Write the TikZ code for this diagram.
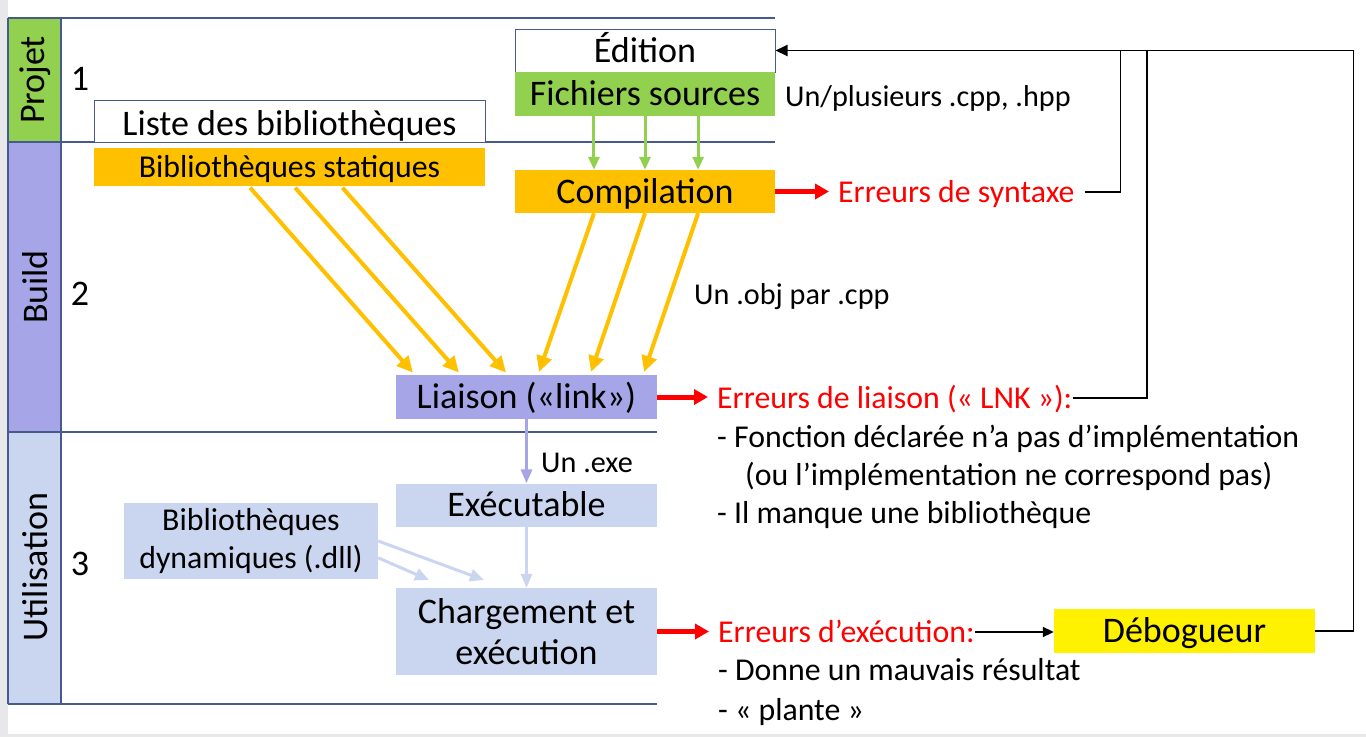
\documentclass[tikz,border=0pt]{standalone}
\usepackage{fontspec}
\setmainfont{Carlito}
\usetikzlibrary{arrows.meta,calc}
\definecolor{lgreen}{HTML}{92D050}
\definecolor{orng}{HTML}{FFC000}
\definecolor{purp}{HTML}{A5A5E8}
\definecolor{lblue}{HTML}{CAD5EF}
\definecolor{bord}{HTML}{475A8C}
\definecolor{stripg}{HTML}{E8E8EA}
\newcommand{\fbig}{\fontsize{36}{41}\selectfont}
\newcommand{\fmid}{\fontsize{31.8}{38}\selectfont}
\newcommand{\fsmall}{\fontsize{30.2}{34}\selectfont}
\tikzset{
  boxn/.style={rectangle,inner sep=0pt,anchor=center,align=center},
  capb/.style={text height=23.2pt,text depth=0pt},
  capm/.style={text height=20.5pt,text depth=0pt},
  caps/.style={text height=19.4pt,text depth=0pt},
  lab/.style={inner sep=0pt,anchor=west},
  garrow/.style={draw=lgreen,line width=3pt,-{Triangle[width=11pt,length=13pt]}},
  oarrow/.style={draw=orng,line width=4pt,-{Triangle[width=15pt,length=16pt]},shorten >=3pt},
  rarrow/.style={draw=red,line width=5pt,-{Triangle[width=15pt,length=14pt]}},
  bline/.style={draw=black,line width=1.8pt},
  lane/.style={draw=bord,line width=2pt},
}
\begin{document}
\begin{tikzpicture}[x=1pt,y=-1pt]
\useasboundingbox (0,0) rectangle (1366,737);
\fill[white] (0,0) rectangle (1366,737);
\fill[stripg] (0,0) rectangle (8,737);
\fill[stripg] (0,734) rectangle (1366,737);
% lanes
\fill[lgreen] (8,18) rectangle (61,142);
\fill[purp] (8,142) rectangle (61,432);
\fill[lblue] (8,432) rectangle (61,704);
\draw[lane] (8,18) -- (775,18);
\draw[lane] (8,142) -- (775,142);
\draw[lane] (8,432) -- (657,432);
\draw[lane] (8,704) -- (657,704);
\draw[lane] (8,18) -- (8,704);
\draw[lane] (61,18) -- (61,704);
\node[rotate=90,inner sep=0pt,font=\fbig] (lp) at (35,80) {Projet};
\node[rotate=90,inner sep=0pt,font=\fbig] (lb) at (35,287) {Build};
\node[rotate=90,inner sep=0pt,font=\fbig] (lu) at (35,567) {Utilisation};
\node[inner sep=0pt,font=\fbig,capb] (n1) at (80,79) {1};
\node[inner sep=0pt,font=\fbig,capb] (n2) at (80,294) {2};
\node[inner sep=0pt,font=\fbig,capb] (n3) at (80,564) {3};
% boxes
\node[boxn,text height=29.2pt,text depth=0pt,fill=white,draw=bord,line width=1pt,minimum width=391pt,minimum height=42pt,font=\fbig] (liste) at (289.5,121) {Liste des bibliothèques};
\node[boxn,capm,fill=orng,minimum width=391pt,minimum height=38pt,font=\fmid] (stat) at (289.5,167) {Bibliothèques statiques};
\node[boxn,capb,fill=white,draw=bord,line width=1pt,minimum width=260pt,minimum height=43pt,font=\fbig] (edition) at (645,50.5) {Édition};
\node[boxn,capb,fill=lgreen,minimum width=260pt,minimum height=44pt,font=\fbig] (sources) at (645,94) {Fichiers sources};
\node[boxn,capb,fill=orng,minimum width=260pt,minimum height=43pt,font=\fbig] (compil) at (645,191.5) {Compilation};
\node[boxn,capb,fill=purp,minimum width=261pt,minimum height=44pt,font=\fbig] (liaison) at (526.5,397) {Liaison («link»)};
\node[boxn,capb,fill=lblue,minimum width=261pt,minimum height=43pt,font=\fbig] (exe) at (526.5,505) {Exécutable};
\node[boxn,fill=lblue,minimum width=261pt,minimum height=87pt,font=\fbig] (charg) at (526.5,631.5) {Chargement et\\exécution};
\node[boxn,fill=lblue,minimum width=254pt,minimum height=76pt,font=\fmid] (dll) at (251,541) {Bibliothèques\\dynamiques (.dll)};
\node[boxn,capb,fill=yellow,minimum width=261pt,minimum height=44pt,font=\fbig] (debog) at (1184.5,631) {Débogueur};
% labels
\node[lab,caps,font=\fsmall] (plus) at (785,97) {Un/plusieurs .cpp, .hpp};
\node[lab,capm,font=\fmid,text=red] (syn) at (838,192) {Erreurs de syntaxe};
\node[lab,caps,font=\fsmall] (obj) at (694,295) {Un .obj par .cpp};
\node[lab,caps,font=\fsmall] (uexe) at (541,463) {Un .exe};
\node[lab,capm,font=\fmid,text=red] (lnk) at (717,398) {Erreurs de liaison (« LNK »):};
\node[lab,capm,font=\fmid] (b1) at (717,437) {- Fonction déclarée n’a pas d’implémentation};
\node[lab,capm,font=\fmid] (b2) at (745,475) {(ou l’implémentation ne correspond pas)};
\node[lab,capm,font=\fmid] (b3) at (717,513) {- Il manque une bibliothèque};
\node[lab,capm,font=\fmid,text=red] (exec) at (718,632) {Erreurs d’exécution:};
\node[lab,capm,font=\fmid] (b4) at (718,670) {- Donne un mauvais résultat};
\node[lab,capm,font=\fmid] (b5) at (718,710) {- « plante »};
% green arrows
\foreach \f in {0.304,0.5,0.704}{
  \draw[garrow] ($(sources.south west)!\f!(sources.south east)$) -- ($(compil.north west)!\f!(compil.north east)$);
}
% orange arrows from static libs
\foreach \a/\b in {0.396/0.073,0.511/0.249,0.632/0.429}{
  \draw[oarrow,shorten <=2pt] ($(stat.south west)!\a!(stat.south east)$) -- ($(liaison.north west)!\b!(liaison.north east)$);
}
% orange arrows from compilation
\foreach \a/\b in {0.304/0.544,0.5/0.743,0.704/0.946}{
  \draw[oarrow] ($(compil.south west)!\a!(compil.south east)$) -- ($(liaison.north west)!\b!(liaison.north east)$);
}
% link -> exe -> load
\draw[draw=purp,line width=3pt,-{Triangle[width=11pt,length=14pt]}] (liaison.south) -- (exe.north);
\draw[draw=lblue,line width=3pt,-{Triangle[width=11pt,length=14pt]}] (exe.south) -- (charg.north);
\coordinate (d1) at (484,580);
\coordinate (d2) at (429,580);
\draw[draw=lblue,line width=3pt,-{Triangle[width=12pt,length=14pt]}] ($(dll.north east)!0.5!(dll.south east)$) -- (d1);
\draw[draw=lblue,line width=3pt,-{Triangle[width=12pt,length=14pt]}] ($(dll.north east)!0.72!(dll.south east)$) -- (d2);
% red arrows
\draw[rarrow,shorten >=9pt] (compil.east) -- (compil.east -| syn.west);
\draw[rarrow,shorten >=9pt] (liaison.east) -- (liaison.east -| lnk.west);
\draw[rarrow,shorten >=9pt] (charg.east) -- (charg.east -| exec.west);
% feedback lines
\coordinate (x1) at (1120.5,0);
\coordinate (x2) at (1147,0);
\coordinate (x3) at (1353.5,0);
\draw[bline,-{Triangle[width=11pt,length=12pt]}] ([xshift=10pt]syn.east) -- (x1 |- syn.east) |- (edition.east);
\draw[bline] (lnk.east) -- (x2 |- lnk.east) -- (x2 |- edition.east);
\draw[bline] (debog.east) -- (x3 |- debog.east) -- (x3 |- edition.east) -- (x1 |- edition.east);
\draw[bline,-{Triangle[width=10pt,length=11pt]}] (exec.east) -- (exec.east -| debog.west);
\end{tikzpicture}
\end{document}
